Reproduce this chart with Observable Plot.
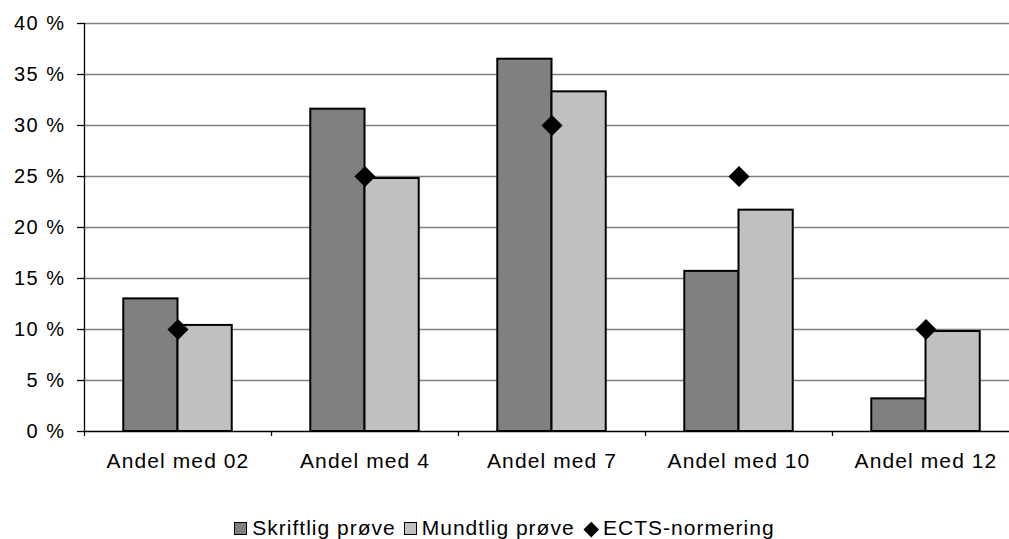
<!DOCTYPE html>
<html>
<head>
<meta charset="utf-8">
<script src="https://cdn.jsdelivr.net/npm/d3@7"></script>
<script src="https://cdn.jsdelivr.net/npm/@observablehq/plot@0.6"></script>
<style>
  html, body { margin: 0; padding: 0; background: #fff; overflow: hidden; width: 1009px; height: 539px; }
  #chart { width: 1009px; overflow: hidden; }
  #chart svg { display: block; max-width: none !important; width: 1030px !important; height: 490px !important; }
  #chart g[aria-label="y-axis tick label"] text { letter-spacing: 1.5px; }
  #chart g[aria-label="x-axis tick label"] text { letter-spacing: 1.1px; }
  .legend { width: 1009px; text-align: center; margin-top: 26px; font-family: "Liberation Sans", Arial, sans-serif; font-size: 21px; letter-spacing: 1px; color: #000; line-height: 24px; white-space: nowrap; }
  .legend .item { display: inline-block; margin: 0 4px; }
  .legend .sw { display: inline-block; width: 13px; height: 13px; border: 1.5px solid #000; box-sizing: border-box; margin-right: 5px; vertical-align: 0px; }
  .legend .dia { display: inline-block; width: 10.5px; height: 10.5px; background: #000; transform: rotate(45deg); margin: 0 7px 0 3px; vertical-align: 1px; }
</style>
</head>
<body>
<div id="chart"></div>
<div class="legend" id="legend"></div>
<script>
const categories = ["Andel med 02", "Andel med 4", "Andel med 7", "Andel med 10", "Andel med 12"];
const skriftlig = [13.0, 31.6, 36.5, 15.7, 3.2];
const mundtlig = [10.4, 24.8, 33.3, 21.7, 9.8];
const ects = [10, 25, 30, 25, 10];
const yTicks = [0, 5, 10, 15, 20, 25, 30, 35, 40];
const seriesNames = ["Skriftlig prøve", "Mundtlig prøve", "ECTS-normering"];
const seriesColors = ["#808080", "#c0c0c0", "#000000"];

const barStart = 0.21, barMid = 0.5, barEnd = 0.79;
const idx = categories.map((c, i) => i);
const boundaries = d3.range(categories.length + 1);
const centers = idx.map(i => i + barMid);

const dark = idx.map(i => ({i, v: skriftlig[i]}));
const light = idx.map(i => ({i, v: mundtlig[i]}));
const norm = idx.map(i => ({i, v: ects[i]}));

const chart = Plot.plot({
  width: 1030,
  height: 490,
  marginLeft: 84,
  marginRight: 11,
  marginTop: 23,
  marginBottom: 59,
  style: { fontFamily: "Liberation Sans, Arial, sans-serif", fontSize: "20px", color: "#000", background: "#fff" },
  x: { domain: [0, categories.length], axis: null },
  y: { domain: [0, 40], axis: null },
  marks: [
    Plot.ruleY(yTicks.slice(1), { stroke: "#808080", strokeWidth: 1.3 }),
    Plot.rectY(dark, { x1: d => d.i + barStart, x2: d => d.i + barMid, y1: 0, y2: "v", fill: seriesColors[0], stroke: "#000", strokeWidth: 2 }),
    Plot.rectY(light, { x1: d => d.i + barMid, x2: d => d.i + barEnd, y1: 0, y2: "v", fill: seriesColors[1], stroke: "#000", strokeWidth: 2 }),
    Plot.ruleY([0], { stroke: "#000", strokeWidth: 1.3 }),
    Plot.ruleX([0], { stroke: "#000", strokeWidth: 1.3 }),
    Plot.dot(norm, { x: d => d.i + barMid, y: "v", symbol: "diamond2", r: 9.5, fill: "#000", stroke: "none" }),
    Plot.axisY({ ticks: yTicks, tickFormat: d => d + " %", tickSize: 7, tickPadding: 12, stroke: "#000", strokeWidth: 1.3, fontSize: 20, label: null }),
    Plot.axisX({ ticks: boundaries, tickFormat: () => "", tickSize: 5, stroke: "#000", strokeWidth: 1.3, label: null }),
    Plot.axisX({ ticks: centers, tickFormat: d => categories[Math.round(d - barMid)], tickSize: 0, tickPadding: 22, fontSize: 21, label: null })
  ]
});
document.getElementById("chart").append(chart);

const legend = document.getElementById("legend");
legend.innerHTML = seriesNames.map((name, k) => {
  const mark = k < 2
    ? `<span class="sw" style="background:${seriesColors[k]}"></span>`
    : `<span class="dia"></span>`;
  return `<span class="item">${mark}${name}</span>`;
}).join("");
</script>
</body>
</html>
